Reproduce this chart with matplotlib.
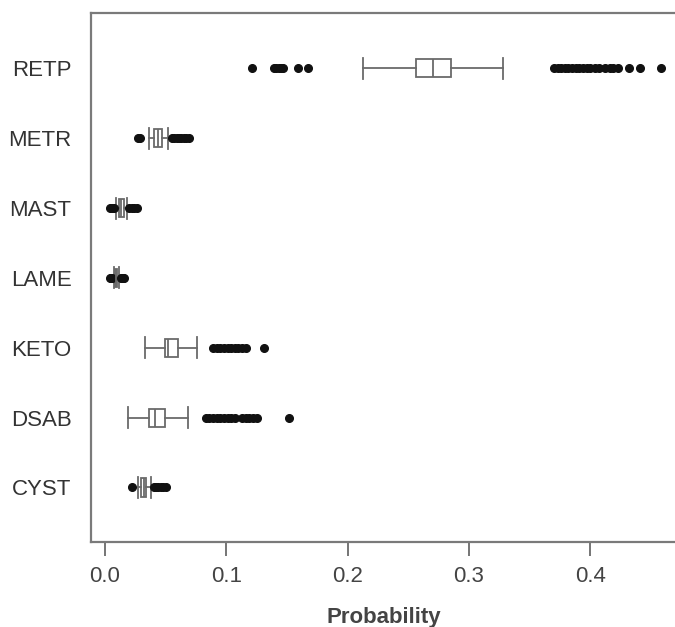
import matplotlib
matplotlib.use("Agg")
import matplotlib.pyplot as plt

# categories, top to bottom as shown
labels = ["RETP", "METR", "MAST", "LAME", "KETO", "DSAB", "CYST"]

# box statistics
whislo = [0.213, 0.036, 0.009, 0.0075, 0.033, 0.019, 0.027]
q1 = [0.256, 0.040, 0.0118, 0.0085, 0.049, 0.0365, 0.030]
med = [0.270, 0.0435, 0.0135, 0.0093, 0.052, 0.0408, 0.032]
q3 = [0.285, 0.047, 0.0152, 0.0102, 0.060, 0.049, 0.034]
whishi = [0.328, 0.052, 0.018, 0.0115, 0.076, 0.068, 0.038]

# outlying points
fliers = [
    [0.1215, 0.139, 0.141, 0.143, 0.145, 0.147, 0.159, 0.167,
     0.370, 0.373, 0.376, 0.379, 0.382, 0.385, 0.388, 0.391, 0.394,
     0.397, 0.400, 0.404, 0.407, 0.412, 0.416, 0.419, 0.423,
     0.432, 0.441, 0.458],
    [0.027, 0.029, 0.055, 0.057, 0.059, 0.061, 0.063, 0.065, 0.067, 0.069],
    [0.004, 0.006, 0.007, 0.020, 0.022, 0.024, 0.026],
    [0.004, 0.005, 0.006, 0.013, 0.014, 0.015, 0.016],
    [0.089, 0.092, 0.095, 0.098, 0.101, 0.104, 0.107, 0.110, 0.113,
     0.116, 0.131],
    [0.083, 0.086, 0.089, 0.092, 0.095, 0.098, 0.101, 0.104, 0.107,
     0.113, 0.116, 0.119, 0.122, 0.125, 0.152],
    [0.022, 0.040, 0.042, 0.044, 0.046, 0.048, 0.050],
]

x_ticks = [0.0, 0.1, 0.2, 0.3, 0.4]

plt.rcParams["font.family"] = ["Liberation Sans", "DejaVu Sans"]

# build stats for bxp, bottom row first
stats = []
for i in range(len(labels)):
    stats.append({
        "whislo": whislo[i], "q1": q1[i], "med": med[i],
        "q3": q3[i], "whishi": whishi[i], "fliers": fliers[i],
    })
stats = stats[::-1]
positions = list(range(1, len(labels) + 1))

fig = plt.figure(figsize=(6.75, 6.27), dpi=100)
ax = fig.add_axes([0.1348, 0.1356, 0.8682, 0.8434])

line_col = "#6a6a6a"
ax.bxp(
    stats,
    positions=positions,
    vert=False,
    widths=0.26,
    patch_artist=True,
    boxprops=dict(facecolor="white", edgecolor=line_col, linewidth=1.3),
    medianprops=dict(color=line_col, linewidth=1.3),
    whiskerprops=dict(color=line_col, linewidth=1.3),
    capprops=dict(color=line_col, linewidth=1.3),
    capwidths=0.3,
    flierprops=dict(marker="o", markerfacecolor="#111111",
                    markeredgecolor="#111111", markersize=5.5),
)

ax.set_xlim(-0.0116, 0.4715)
ax.set_ylim(0.22, 7.79)
ax.set_yticks(positions)
ax.set_yticklabels(labels[::-1], fontsize=16, color="#333333")
ax.tick_params(axis="y", length=0, pad=14)
ax.set_xticks(x_ticks)
ax.set_xticklabels([f"{t:.1f}" for t in x_ticks], fontsize=16, color="#444444")
ax.tick_params(axis="x", length=10, width=1.3, color=line_col, pad=7)
ax.set_xlabel("Probability", fontsize=16, fontweight="bold",
              color="#444444", labelpad=15)

for side in ["left", "bottom", "top", "right"]:
    ax.spines[side].set_color("#7a7a7a")
    ax.spines[side].set_linewidth(1.6)

fig.savefig("out.png", dpi=100)
